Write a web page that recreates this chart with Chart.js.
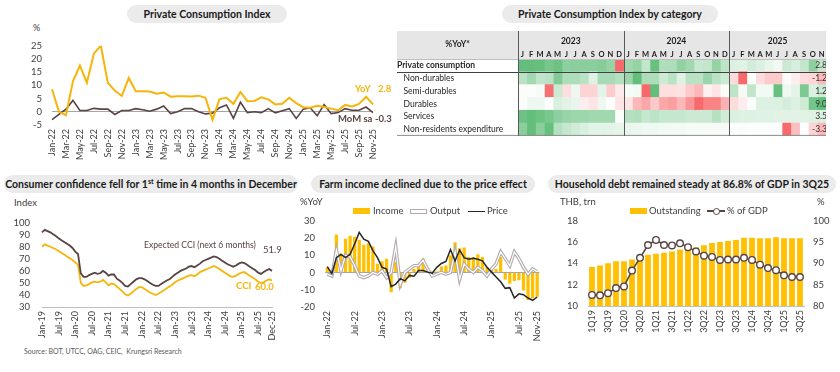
<!DOCTYPE html>
<html>
<head>
<meta charset="utf-8">
<script src="https://cdn.jsdelivr.net/npm/chart.js@4.4.1/dist/chart.umd.min.js"></script>
<style>
  html, body { margin: 0; padding: 0; background: #ffffff; }
  body { position: relative; width: 840px; height: 372px; overflow: hidden; font-family: Lato, "Open Sans", sans-serif; color: #404040; }
  .pill { position: absolute; height: 18px; line-height: 18px; background: #ebebeb; border-radius: 9px; text-align: center; font-weight: bold; font-size: 10.5px; color: #1a1a1a; white-space: nowrap; }
  .pill sup { font-size: 7px; line-height: 0; vertical-align: 4px; }
  .panel { position: absolute; }
  .txt { position: absolute; white-space: nowrap; font-size: 9px; line-height: 12px; }
  .sw { position: absolute; box-sizing: border-box; }
</style>
</head>
<body>

<!-- titles -->
<div class="pill" style="left:127px; top:5px; width:160px;">Private Consumption Index</div>
<div class="pill" style="left:502px; top:5px; width:216px;">Private Consumption Index by category</div>
<div class="pill" style="left:4px; top:175px; width:294px;">Consumer confidence fell for 1<sup>st</sup> time in 4 months in December</div>
<div class="pill" style="left:311px; top:175px; width:224px;">Farm income declined due to the price effect</div>
<div class="pill" style="left:548px; top:175px; width:288px;">Household debt remained steady at 86.8% of GDP in 3Q25</div>

<!-- private consumption index -->
<div class="txt" style="left:33px; top:22px;">%</div>
<div class="panel" style="left:0; top:30px; width:400px; height:135px;"><canvas id="pciChart"></canvas></div>
<div class="txt" style="left:355px; top:83px; color:#f5b50a; font-weight:bold; font-size:9.5px;">YoY</div>
<div class="txt" style="left:378px; top:83px; color:#f5b50a; font-weight:bold; font-size:9.5px;">2.8</div>
<div class="txt" style="left:338px; top:113px; color:#594444; font-weight:bold; font-size:9.5px;">MoM sa</div>
<div class="txt" style="left:375px; top:113px; color:#594444; font-weight:bold; font-size:9.5px;">-0.3</div>

<!-- heatmap -->
<div class="sw" style="left:397px; top:31px; width:429px; height:28px; background:#e7e6e6;"></div>
<div class="txt" style="left:397px; top:38px; width:121px; text-align:center; font-weight:bold; font-size:8.5px; color:#262626;">%YoY*</div>
<div class="panel" style="left:397px; top:31px; width:429px; height:111px;"><canvas id="heatChart"></canvas></div>

<!-- consumer confidence -->
<div class="txt" style="left:14px; top:197px; font-size:9.5px;">Index</div>
<div class="panel" style="left:0; top:205px; width:290px; height:140px;"><canvas id="cciChart"></canvas></div>
<div class="txt" style="left:144px; top:239px; color:#594444; font-size:8.6px;">Expected CCI (next 6 months)</div>
<div class="txt" style="left:263px; top:244px; color:#594444; font-size:9.5px;">51.9</div>
<div class="txt" style="left:236px; top:280px; color:#f5b50a; font-weight:bold; font-size:9.5px;">CCI</div>
<div class="txt" style="left:255px; top:281px; color:#f5b50a; font-weight:bold; font-size:9.5px;">60.0</div>
<div class="txt" style="left:24px; top:347px; font-size:7px; line-height:9px; color:#595959;">Source: BOT, UTCC, OAG, CEIC,&nbsp; Krungsri Research</div>

<!-- farm income -->
<div class="txt" style="left:300px; top:196px; font-size:9.5px;">%YoY</div>
<div class="sw" style="left:353px; top:208px; width:17px; height:6px; background:#FFC000;"></div>
<div class="txt" style="left:373px; top:205px; font-size:9.5px;">Income</div>
<div class="sw" style="left:410px; top:208.5px; width:17px; height:5px; border:1.2px solid #b3abab; background:#fff;"></div>
<div class="txt" style="left:430px; top:205px; font-size:9.5px;">Output</div>
<div class="sw" style="left:468px; top:210.5px; width:17px; height:1.6px; background:#262626;"></div>
<div class="txt" style="left:487px; top:205px; font-size:9.5px;">Price</div>
<div class="panel" style="left:290px; top:205px; width:262px; height:140px;"><canvas id="farmChart"></canvas></div>

<!-- household debt -->
<div class="txt" style="left:560px; top:196px; font-size:9.5px;">THB, trn</div>
<div class="txt" style="left:817px; top:196px; font-size:9.5px;">%</div>
<div class="sw" style="left:630px; top:208px; width:17px; height:6px; background:#FFC000;"></div>
<div class="txt" style="left:649px; top:205px; font-size:9.5px;">Outstanding</div>
<div class="sw" style="left:707px; top:210.3px; width:18px; height:1.6px; background:#594444;"></div>
<div class="sw" style="left:712.5px; top:207.5px; width:7px; height:7px; border:1.4px solid #594444; border-radius:50%; background:#fff;"></div>
<div class="txt" style="left:727px; top:205px; font-size:9.5px;">% of GDP</div>
<div class="panel" style="left:548px; top:205px; width:290px; height:140px;"><canvas id="debtChart"></canvas></div>

<script>
// ---- data ----
var pciYoY = [8.5, 0.0, -1.3, 11.5, 17.5, 11.0, 22.0, 25.0, 11.0, 8.0, 6.0, 12.8,
              7.8, 7.8, 7.7, 6.8, 7.3, 5.7, 5.9, 5.9, 5.8, 6.1, 5.3, -3.0,
              4.8, 5.3, 3.0, 7.5, 4.0, 4.1, 5.5, 4.7, 2.8, 3.0, 5.3, 3.3,
              1.7, 1.5, 2.3, 1.8, 1.2, 0.6, 2.6, 2.0, 3.0, 5.7, 2.8];
var pciMoM = [-3.0, -1.0, 1.0, 4.3, 0.5, 0.5, 1.3, 1.0, 1.0, -1.0, 0.5, 0.5,
              1.2, 0.8, 0.2, 1.0, 2.2, -0.7, 0.0, 1.2, 1.2, 0.0, -0.8, -0.5,
              1.5, 2.6, -2.5, 3.6, -0.3, 0.0, -0.3, 1.2, -0.4, 0.4, 1.2, -2.5,
              1.0, 1.5, -1.5, 2.7, -0.7, -0.3, 1.2, 0.6, 0.6, 1.8, -0.3];

var heatYears = ['2023', '2024', '2025'];
var heatYearMonths = [12, 12, 11];
var monthLetters = ['J', 'F', 'M', 'A', 'M', 'J', 'J', 'A', 'S', 'O', 'N', 'D'];
var heatRows = ['Private consumption', 'Non-durables', 'Semi-durables', 'Durables', 'Services', 'Non-residents expenditure'];
var heatPrivate = pciYoY.slice(12);
var heatNonDurables = [2.2, 3.0, 2.0, 2.2, 4.0, 2.6, 2.6, 2.2, 1.0, 2.8, 2.8, 2.4,
                       3.2, 5.0, 2.6, 2.6, 1.6, 2.2, 1.0, 2.2, 2.2, 3.2, 2.2, 1.6,
                       -0.6, -2.6, 0.1, -0.6, -0.9, -0.9, 0.2, -0.3, -0.6, -0.7, -1.2];
var heatSemiDurables = [0.1, 0.1, 0.2, -4.0, 1.2, -0.9, 0.4, -1.2, -1.2, 0.6, -1.4, -0.6,
                        0.2, 0.3, -4.2, 3.6, -0.9, -0.9, -0.8, -1.5, -2.0, -0.4, -0.7, 0.1,
                        1.5, 0.2, 1.4, 0.3, 0.3, 3.5, 0.4, 0.6, 3.0, 0.8, 1.2];
var heatDurables = [0.3, 1.0, 1.0, 0.2, 2.2, 1.6, 1.2, -1.0, -1.5, 1.0, 0.0, -1.5,
                    -1.5, -4.0, -5.0, -3.0, -5.0, -5.5, -4.0, -6.0, -8.5, -7.0, -7.0, -4.5,
                    -2.0, -1.0, 0.3, 2.0, 2.0, 2.0, 2.4, 2.0, 2.8, 8.0, 9.0];
var heatServices = [14.0, 15.0, 14.0, 13.0, 11.0, 10.0, 9.5, 9.5, 9.0, 9.0, 9.0, 0.5,
                    7.0, 7.5, 5.5, 6.5, 5.5, 5.5, 5.5, 5.0, 5.0, 5.0, 7.0, 4.5,
                    3.5, 3.2, 3.2, 3.0, 3.0, 2.8, 2.8, 2.8, 2.8, 3.2, 3.5];
var heatNonResidents = [45, 60, 45, 58, 28, 22, 18, 14, 11, 11, 10, 9,
                        8, 7, 6, 6, 5, 5, 4.5, 4, 4, 4, 3.5, 3.5,
                        1.0, 1.5, 1.0, 1.0, 1.0, 1.0, -7.0, -3.0, 0.5, -2.0, -3.3];

var cciExpected = [92, 94, 93, 92, 90.5, 89, 87, 85.5, 84, 82.5, 81, 79,
                   76, 74, 58, 55, 55, 56.5, 57.5, 58.5, 57.5, 58, 60, 58.5,
                   56, 57, 57, 53.5, 52, 50, 47.5, 47, 49, 51, 53, 54,
                   54, 53, 51.5, 50, 48.5, 47.5, 47.5, 49, 50.5, 52, 53, 55,
                   57, 58.5, 60, 61, 62, 63.5, 64, 63, 64.5, 66, 68, 69,
                   70, 71, 72, 71.5, 70, 68.5, 67, 65.5, 64.5, 63.5, 64.5, 66,
                   67, 66.5, 65, 63.5, 62, 60.5, 58.5, 57.5, 59, 60.5, 61.5, 60];
var cciIndex = [80, 82, 81, 80, 79, 78, 76.5, 75, 73.5, 72, 70.5, 69,
                67, 65, 50, 47.5, 48, 49, 50.5, 51, 50.5, 51, 52.5, 50.5,
                48, 49.5, 49, 47, 45, 43, 40.5, 39.5, 41, 43, 45, 46.5,
                46.5, 45, 43.5, 42, 41, 40, 41, 42.5, 44, 45.5, 47, 48.5,
                50.5, 52, 53, 54, 55, 56, 56.5, 55.5, 57, 59, 60, 61,
                62, 63, 64, 63, 61.5, 60, 58.5, 57, 55.5, 55, 56, 57.5,
                58.5, 59, 57.5, 56, 54.5, 53, 51, 50, 50.5, 52, 53, 52];

var farmIncome = [3, -2, 22, 11, 19.5, 21.3, 20.7, 19, 16, 17, 15, 5,
                  6.5, 8, -11.5, 6, -9, -6, -3, 2, 5, 8, 1, 0.5,
                  0.5, 3.5, 4, 10, 17.5, 14, 14.5, 9, 9, 10.5, 9, 3,
                  2, 2, 9, -4, -6.5, -5, -4.5, -10.5, -16, -15, -14];
var farmOutput = [-1, -2, 13, 1, 10, 9, 4, -2, -3, -2, 0, -1,
                  1, -3, 0, 15, -7, 0, 2, 4, 4, 7, 2, -2,
                  -1, 0, -1, 0, 12, -4, 5, 2, 0, 3, 1, -2,
                  2, 5, 12, 8, 4, 12, 8, 3, -1, 2, 0.5];
var farmPrice = [3.4, -0.7, 8.6, 10.5, 8.6, 10.5, 16.5, 23.2, 19.3, 18, 12.7, 8.6,
                 3, 2, -8.2, -6.7, -3.6, -4.9, -1.7, -2.2, 1.1, 1.1, 0.2, -0.4,
                 3, 5.2, 6.4, 13.3, 6.7, 13, 8.6, 7.7, 8.2, 7.7, 6.7, 3,
                 0.2, -2.6, -5.4, -9.2, -8.8, -14.8, -12.4, -12.9, -14.8, -16.1, -14.2];

var debtOutstanding = [13.65, 13.8, 14.0, 14.2, 14.2, 14.35, 14.55, 14.8, 14.9, 15.0, 15.1, 15.3,
                       15.45, 15.5, 15.7, 15.9, 16.0, 16.1, 16.2, 16.4, 16.4, 16.35, 16.35, 16.45,
                       16.35, 16.35, 16.35];
var debtGdp = [82.6, 82.5, 83.0, 84.2, 84.6, 88.3, 91.3, 94.3, 95.5, 94.3, 94.2, 94.7,
               93.8, 92.8, 91.8, 91.5, 90.8, 90.9, 90.9, 91.3, 90.8, 89.7, 88.9, 88.4,
               87.2, 86.8, 86.8];

// ---- labels ----
function monthLabels(startYear, count) {
  var names = ['Jan', 'Feb', 'Mar', 'Apr', 'May', 'Jun', 'Jul', 'Aug', 'Sep', 'Oct', 'Nov', 'Dec'];
  var out = [];
  for (var i = 0; i < count; i++) {
    out.push(names[i % 12] + '-' + String(startYear + Math.floor(i / 12)).slice(2));
  }
  return out;
}
function quarterLabels(startYear, count) {
  var out = [];
  for (var i = 0; i < count; i++) {
    out.push((i % 4 + 1) + 'Q' + String(startYear + Math.floor(i / 4)).slice(2));
  }
  return out;
}
var pciMonths = monthLabels(2022, pciYoY.length);
var cciMonths = monthLabels(2019, cciIndex.length);
var farmMonths = monthLabels(2022, farmIncome.length);
var debtQuarters = quarterLabels(2019, debtGdp.length);
var heatMonths = [];
heatYearMonths.forEach(function (n) { heatMonths = heatMonths.concat(monthLetters.slice(0, n)); });

// ---- style ----
var ORANGE = '#FFC000';
var LINE_ORANGE = '#F5B50A';
var BROWN = '#594444';
var FONT = 'Lato, "Open Sans", sans-serif';

Chart.defaults.font.family = FONT;
Chart.defaults.font.size = 9;
Chart.defaults.color = '#404040';
Chart.defaults.animation = false;
Chart.defaults.events = [];
Chart.defaults.maintainAspectRatio = false;
Chart.defaults.plugins.legend.display = false;
Chart.defaults.plugins.tooltip.enabled = false;
Chart.defaults.elements.point.radius = 0;
Chart.defaults.elements.line.tension = 0;

function fixWidth(w) { return function (scale) { scale.width = w; }; }
function fixHeight(h) { return function (scale) { scale.height = h; }; }
function sparseLabels(labels, step) {
  return function (value, index) {
    return (index % step === 0 || index === labels.length - 1) ? labels[index] : '';
  };
}
var noGrid = { display: false, drawTicks: false };
var zeroGrid = {
  drawTicks: false,
  color: function (c) { return c.tick && c.tick.value === 0 ? '#a6a6a6' : 'rgba(0,0,0,0)'; }
};
function dateAxis(labels, step, height) {
  return {
    grid: noGrid,
    border: { display: false },
    ticks: { autoSkip: false, minRotation: 90, maxRotation: 90, padding: 4, font: { size: 9 }, callback: sparseLabels(labels, step) },
    afterFit: fixHeight(height)
  };
}
function valueAxis(min, max, step, pad, width, grid) {
  return {
    min: min, max: max,
    grid: grid || noGrid,
    border: { display: false },
    ticks: { stepSize: step, autoSkip: false, padding: pad, font: { size: 9.5 } },
    afterFit: fixWidth(width)
  };
}

// ---- Private Consumption Index ----
new Chart(document.getElementById('pciChart'), {
  type: 'line',
  data: {
    labels: pciMonths,
    datasets: [
      { label: 'YoY', data: pciYoY, borderColor: LINE_ORANGE, borderWidth: 2 },
      { label: 'MoM sa', data: pciMoM, borderColor: BROWN, borderWidth: 1.6 }
    ]
  },
  options: {
    layout: { padding: { top: 13, right: 27, bottom: 0, left: 0 } },
    scales: {
      x: dateAxis(pciMonths, 2, 40),
      y: valueAxis(-5, 25, 5, 10, 52, zeroGrid)
    }
  }
});

// ---- heatmap ----
function cellColor(v, lo, hi) {
  var t, c;
  if (v >= 0) { t = hi > 0 ? v / hi : 0; c = [99, 190, 123]; }
  else { t = lo < 0 ? v / lo : 0; c = [248, 105, 107]; }
  function mix(a) { return Math.round(255 + (a - 255) * t); }
  return 'rgb(' + mix(c[0]) + ',' + mix(c[1]) + ',' + mix(c[2]) + ')';
}
var heatSeries = [heatPrivate, heatNonDurables, heatSemiDurables, heatDurables, heatServices, heatNonResidents];
var heatDatasets = heatMonths.map(function (m, j) {
  return {
    data: heatSeries.map(function () { return 1; }),
    backgroundColor: heatSeries.map(function (row) {
      return cellColor(row[j], Math.min.apply(null, row), Math.max.apply(null, row));
    }),
    borderWidth: 0,
    barPercentage: 1,
    categoryPercentage: 1
  };
});
var yearStarts = [];
var yearCenters = [];
heatYearMonths.reduce(function (start, n) {
  yearStarts.push(start);
  yearCenters.push(start + n / 2);
  return start + n;
}, 0);

var tableLines = {
  id: 'tableLines',
  afterDatasetsDraw: function (chart) {
    var ctx = chart.ctx, a = chart.chartArea, x = chart.scales.x, y = chart.scales.y;
    var rowEdge = (y.getPixelForValue(0) + y.getPixelForValue(1)) / 2;
    ctx.save();
    ctx.lineWidth = 1;
    ctx.strokeStyle = '#bfbfbf';
    ctx.beginPath(); ctx.moveTo(0, a.top + 0.5); ctx.lineTo(a.right, a.top + 0.5); ctx.stroke();
    ctx.strokeStyle = '#404040';
    ctx.beginPath(); ctx.moveTo(0, Math.round(rowEdge) + 0.5); ctx.lineTo(a.right, Math.round(rowEdge) + 0.5); ctx.stroke();
    ctx.strokeStyle = '#8c8c8c';
    ctx.beginPath(); ctx.moveTo(0, a.bottom - 0.5); ctx.lineTo(a.right, a.bottom - 0.5); ctx.stroke();
    ctx.strokeStyle = '#595959';
    yearStarts.forEach(function (v) {
      var px = Math.round(x.getPixelForValue(v)) + 0.5;
      ctx.beginPath(); ctx.moveTo(px, 0); ctx.lineTo(px, a.bottom); ctx.stroke();
    });
    ctx.restore();
  }
};

new Chart(document.getElementById('heatChart'), {
  type: 'bar',
  data: { labels: heatRows, datasets: heatDatasets },
  plugins: [tableLines],
  options: {
    indexAxis: 'y',
    layout: { padding: 0 },
    scales: {
      x: {
        type: 'linear', position: 'top', stacked: true,
        min: 0, max: heatMonths.length,
        grid: noGrid, border: { display: false },
        afterBuildTicks: function (s) { s.ticks = heatMonths.map(function (m, i) { return { value: i + 0.5 }; }); },
        ticks: {
          autoSkip: false, maxRotation: 0, padding: 0, color: '#1a1a1a',
          font: { size: 7.5, weight: 'bold' },
          callback: function (v, i) { return heatMonths[i]; }
        },
        afterFit: fixHeight(9)
      },
      xYear: {
        type: 'linear', position: 'top', weight: 1,
        min: 0, max: heatMonths.length,
        grid: noGrid, border: { display: false },
        afterBuildTicks: function (s) { s.ticks = yearCenters.map(function (v) { return { value: v }; }); },
        ticks: {
          autoSkip: false, maxRotation: 0, padding: 4, color: '#1a1a1a',
          font: { size: 8.5, weight: 'bold' },
          callback: function (v, i) { return heatYears[i]; }
        },
        afterFit: fixHeight(19)
      },
      y: {
        stacked: true,
        grid: noGrid, border: { display: false },
        ticks: {
          autoSkip: false, crossAlign: 'far', padding: 0, color: '#262626',
          font: function (c) { return { family: FONT, size: 8.5, weight: c.index === 0 ? 'bold' : 'normal' }; },
          callback: function (v, i) { return (i ? '   ' : '') + heatRows[i]; }
        },
        afterFit: fixWidth(121)
      },
      y2: {
        type: 'category', position: 'right', offset: true,
        labels: heatSeries.map(function (row) { return row[row.length - 1].toFixed(1); }),
        grid: noGrid, border: { display: false },
        ticks: { z: 1, autoSkip: false, mirror: true, padding: 1, color: '#333333', font: { size: 8.5 } },
        afterFit: fixWidth(0)
      }
    }
  }
});

// ---- consumer confidence ----
new Chart(document.getElementById('cciChart'), {
  type: 'line',
  data: {
    labels: cciMonths,
    datasets: [
      { label: 'Expected CCI (next 6 months)', data: cciExpected, borderColor: BROWN, borderWidth: 1.8 },
      { label: 'CCI', data: cciIndex, borderColor: LINE_ORANGE, borderWidth: 1.8 }
    ]
  },
  options: {
    layout: { padding: { top: 13, right: 18, bottom: 0, left: 0 } },
    scales: {
      x: Object.assign(dateAxis(cciMonths, 6, 38), { border: { display: true, color: '#bfbfbf' } }),
      y: valueAxis(30, 100, 10, 12, 42)
    }
  }
});

// ---- farm income ----
new Chart(document.getElementById('farmChart'), {
  type: 'bar',
  data: {
    labels: farmMonths,
    datasets: [
      { type: 'line', label: 'Price', data: farmPrice, borderColor: '#262626', borderWidth: 1.5, order: 0 },
      { type: 'line', label: 'Output', data: farmOutput, borderColor: '#ffffff', borderWidth: 1.2, order: 1 },
      { type: 'line', label: 'Output', data: farmOutput, borderColor: '#b3abab', borderWidth: 3.4, order: 2 },
      { type: 'bar', label: 'Income', data: farmIncome, backgroundColor: ORANGE, order: 3, barPercentage: 0.9, categoryPercentage: 0.8 }
    ]
  },
  options: {
    layout: { padding: { top: 12, right: 3, bottom: 0, left: 0 } },
    scales: {
      x: dateAxis(farmMonths, 6, 38),
      y: valueAxis(-20, 30, 10, 10, 35, zeroGrid)
    }
  }
});

// ---- household debt ----
new Chart(document.getElementById('debtChart'), {
  type: 'bar',
  data: {
    labels: debtQuarters,
    datasets: [
      {
        type: 'line', label: '% of GDP', data: debtGdp, yAxisID: 'y1', order: 0,
        borderColor: BROWN, borderWidth: 1.6,
        pointRadius: 3.3, pointBackgroundColor: '#ffffff', pointBorderColor: BROWN, pointBorderWidth: 1.4
      },
      { type: 'bar', label: 'Outstanding', data: debtOutstanding, backgroundColor: ORANGE, order: 1, barPercentage: 0.72, categoryPercentage: 1 }
    ]
  },
  options: {
    layout: { padding: { top: 13, right: 0, bottom: 0, left: 0 } },
    scales: {
      x: Object.assign(dateAxis(debtQuarters, 2, 39), { border: { display: true, color: '#bfbfbf' } }),
      y: valueAxis(10, 18, 2, 10, 40),
      y1: Object.assign(valueAxis(80, 100, 5, 9, 34), { position: 'right' })
    }
  }
});
</script>
</body>
</html>
